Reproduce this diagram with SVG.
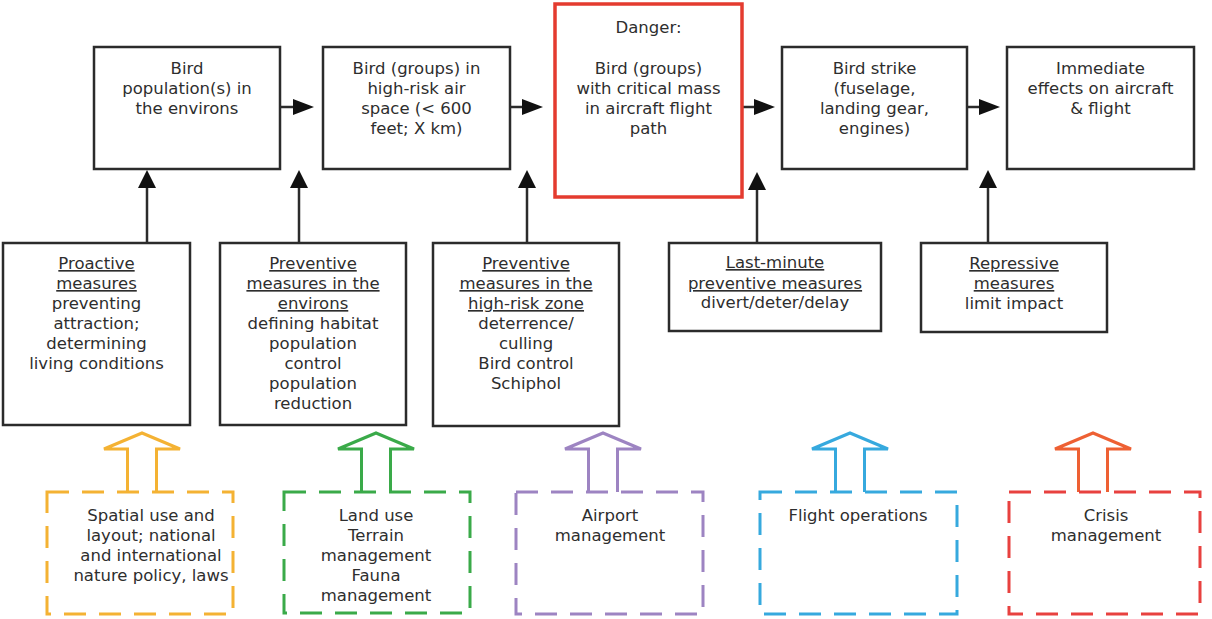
<svg xmlns="http://www.w3.org/2000/svg" width="1212" height="619" viewBox="0 0 1212 619">
<style>
.box{fill:#fff;stroke:#2b2b2b;stroke-width:2.5}
.red{fill:#fff;stroke:#e43b2f;stroke-width:3.5}
.t{font-family:"DejaVu Sans",Verdana,sans-serif;font-size:16.5px;fill:#2e2e2e;text-anchor:middle}
.u{text-decoration:underline}
.ln{stroke:#2b2b2b;stroke-width:2.5;fill:none}
.hd{fill:#111}
.dash{fill:none;stroke-width:3;stroke-dasharray:22 13}
.ha{fill:none;stroke-width:3;stroke-linejoin:miter}
</style>
<rect width="1212" height="619" fill="#fff"/>

<g id="connectors">
  <line class="ln" x1="280" y1="107" x2="296" y2="107"/><polygon class="hd" points="293,99 314,107 293,115"/>
  <line class="ln" x1="510" y1="107" x2="525" y2="107"/><polygon class="hd" points="522,99 543,107 522,115"/>
  <line class="ln" x1="742" y1="107" x2="757" y2="107"/><polygon class="hd" points="754,99 775,107 754,115"/>
  <line class="ln" x1="967" y1="107" x2="982" y2="107"/><polygon class="hd" points="979,99 1000,107 979,115"/>

  <line class="ln" x1="147" y1="243" x2="147" y2="185"/><polygon class="hd" points="138,188 147,170 156,188"/>
  <line class="ln" x1="299" y1="243" x2="299" y2="185"/><polygon class="hd" points="290,188 299,170 308,188"/>
  <line class="ln" x1="527" y1="243" x2="527" y2="185"/><polygon class="hd" points="518,188 527,170 536,188"/>
  <line class="ln" x1="757" y1="243" x2="757" y2="187"/><polygon class="hd" points="748,190 757,172 766,190"/>
  <line class="ln" x1="988" y1="243" x2="988" y2="185"/><polygon class="hd" points="979,188 988,170 997,188"/>

  <polyline class="ha" stroke="#f4b233" points="127.5,492 127.5,449 104,449 142,433 180,449 156.5,449 156.5,492"/>
  <polyline class="ha" stroke="#3aaa49" points="361.5,492 361.5,449 338,449 376,433 414,449 390.5,449 390.5,492"/>
  <polyline class="ha" stroke="#9d84c2" points="588.5,492 588.5,449 565,449 603,433 641,449 617.5,449 617.5,492"/>
  <polyline class="ha" stroke="#36a9de" points="835.5,492 835.5,449 812,449 850,433 888,449 864.5,449 864.5,492"/>
  <polyline class="ha" stroke="#ee6033" points="1078.5,492 1078.5,449 1055,449 1093,433 1131,449 1107.5,449 1107.5,492"/>
</g>

<g id="n1"><rect class="box" x="94" y="47" width="186" height="122"/>
<text class="t" x="187" y="74">Bird</text><text class="t" x="187" y="94">population(s) in</text><text class="t" x="187" y="114">the environs</text></g>

<g id="n2"><rect class="box" x="323" y="47" width="187" height="122"/>
<text class="t" x="416.5" y="74">Bird (groups) in</text><text class="t" x="416.5" y="94">high-risk air</text><text class="t" x="416.5" y="114">space (&lt; 600</text><text class="t" x="416.5" y="134">feet; X km)</text></g>

<g id="n3"><rect class="red" x="555" y="4" width="187" height="193"/>
<text class="t" x="648.5" y="33">Danger:</text><text class="t" x="648.5" y="74">Bird (groups)</text><text class="t" x="648.5" y="94">with critical mass</text><text class="t" x="648.5" y="114">in aircraft flight</text><text class="t" x="648.5" y="134">path</text></g>

<g id="n4"><rect class="box" x="782" y="47" width="185" height="122"/>
<text class="t" x="874.5" y="74">Bird strike</text><text class="t" x="874.5" y="94">(fuselage,</text><text class="t" x="874.5" y="114">landing gear,</text><text class="t" x="874.5" y="134">engines)</text></g>

<g id="n5"><rect class="box" x="1007" y="47" width="187" height="122"/>
<text class="t" x="1100.5" y="74">Immediate</text><text class="t" x="1100.5" y="94">effects on aircraft</text><text class="t" x="1100.5" y="114">&amp; flight</text></g>

<g id="mA"><rect class="box" x="3" y="243" width="187" height="182"/>
<text class="t u" x="96.5" y="269">Proactive</text><text class="t u" x="96.5" y="289">measures</text><text class="t" x="96.5" y="309">preventing</text><text class="t" x="96.5" y="329">attraction;</text><text class="t" x="96.5" y="349">determining</text><text class="t" x="96.5" y="369">living conditions</text></g>

<g id="mB"><rect class="box" x="220" y="243" width="186" height="182"/>
<text class="t u" x="313" y="269">Preventive</text><text class="t u" x="313" y="289">measures in the</text><text class="t u" x="313" y="309">environs</text><text class="t" x="313" y="329">defining habitat</text><text class="t" x="313" y="349">population</text><text class="t" x="313" y="369">control</text><text class="t" x="313" y="389">population</text><text class="t" x="313" y="409">reduction</text></g>

<g id="mC"><rect class="box" x="433" y="243" width="186" height="183"/>
<text class="t u" x="526" y="269">Preventive</text><text class="t u" x="526" y="289">measures in the</text><text class="t u" x="526" y="309">high-risk zone</text><text class="t" x="526" y="329">deterrence/</text><text class="t" x="526" y="349">culling</text><text class="t" x="526" y="369">Bird control</text><text class="t" x="526" y="389">Schiphol</text></g>

<g id="mD"><rect class="box" x="669" y="243" width="212" height="88"/>
<text class="t u" x="775" y="268">Last-minute</text><text class="t u" x="775" y="289">preventive measures</text><text class="t" x="775" y="308">divert/deter/delay</text></g>

<g id="mE"><rect class="box" x="921" y="243" width="186" height="89"/>
<text class="t u" x="1014" y="269">Repressive</text><text class="t u" x="1014" y="289">measures</text><text class="t" x="1014" y="309">limit impact</text></g>

<g id="bOrange"><rect class="dash" stroke="#f4b233" x="47" y="492" width="186" height="122"/>
<text class="t" x="151" y="521">Spatial use and</text><text class="t" x="151" y="541">layout; national</text><text class="t" x="151" y="561">and international</text><text class="t" x="151" y="581">nature policy, laws</text></g>

<g id="bGreen"><rect class="dash" stroke="#3aaa49" x="284" y="492" width="186" height="121"/>
<text class="t" x="376" y="521">Land use</text><text class="t" x="376" y="541">Terrain</text><text class="t" x="376" y="561">management</text><text class="t" x="376" y="581">Fauna</text><text class="t" x="376" y="601">management</text></g>

<g id="bPurple"><rect class="dash" stroke="#9d84c2" x="516" y="492" width="187" height="122"/>
<text class="t" x="610" y="521">Airport</text><text class="t" x="610" y="541">management</text></g>

<g id="bBlue"><rect class="dash" stroke="#36a9de" x="760" y="492" width="197" height="122"/>
<text class="t" x="858" y="521">Flight operations</text></g>

<g id="bRed"><rect class="dash" stroke="#e8413f" x="1009" y="492" width="191" height="122"/>
<text class="t" x="1106" y="521">Crisis</text><text class="t" x="1106" y="541">management</text></g>
</svg>
